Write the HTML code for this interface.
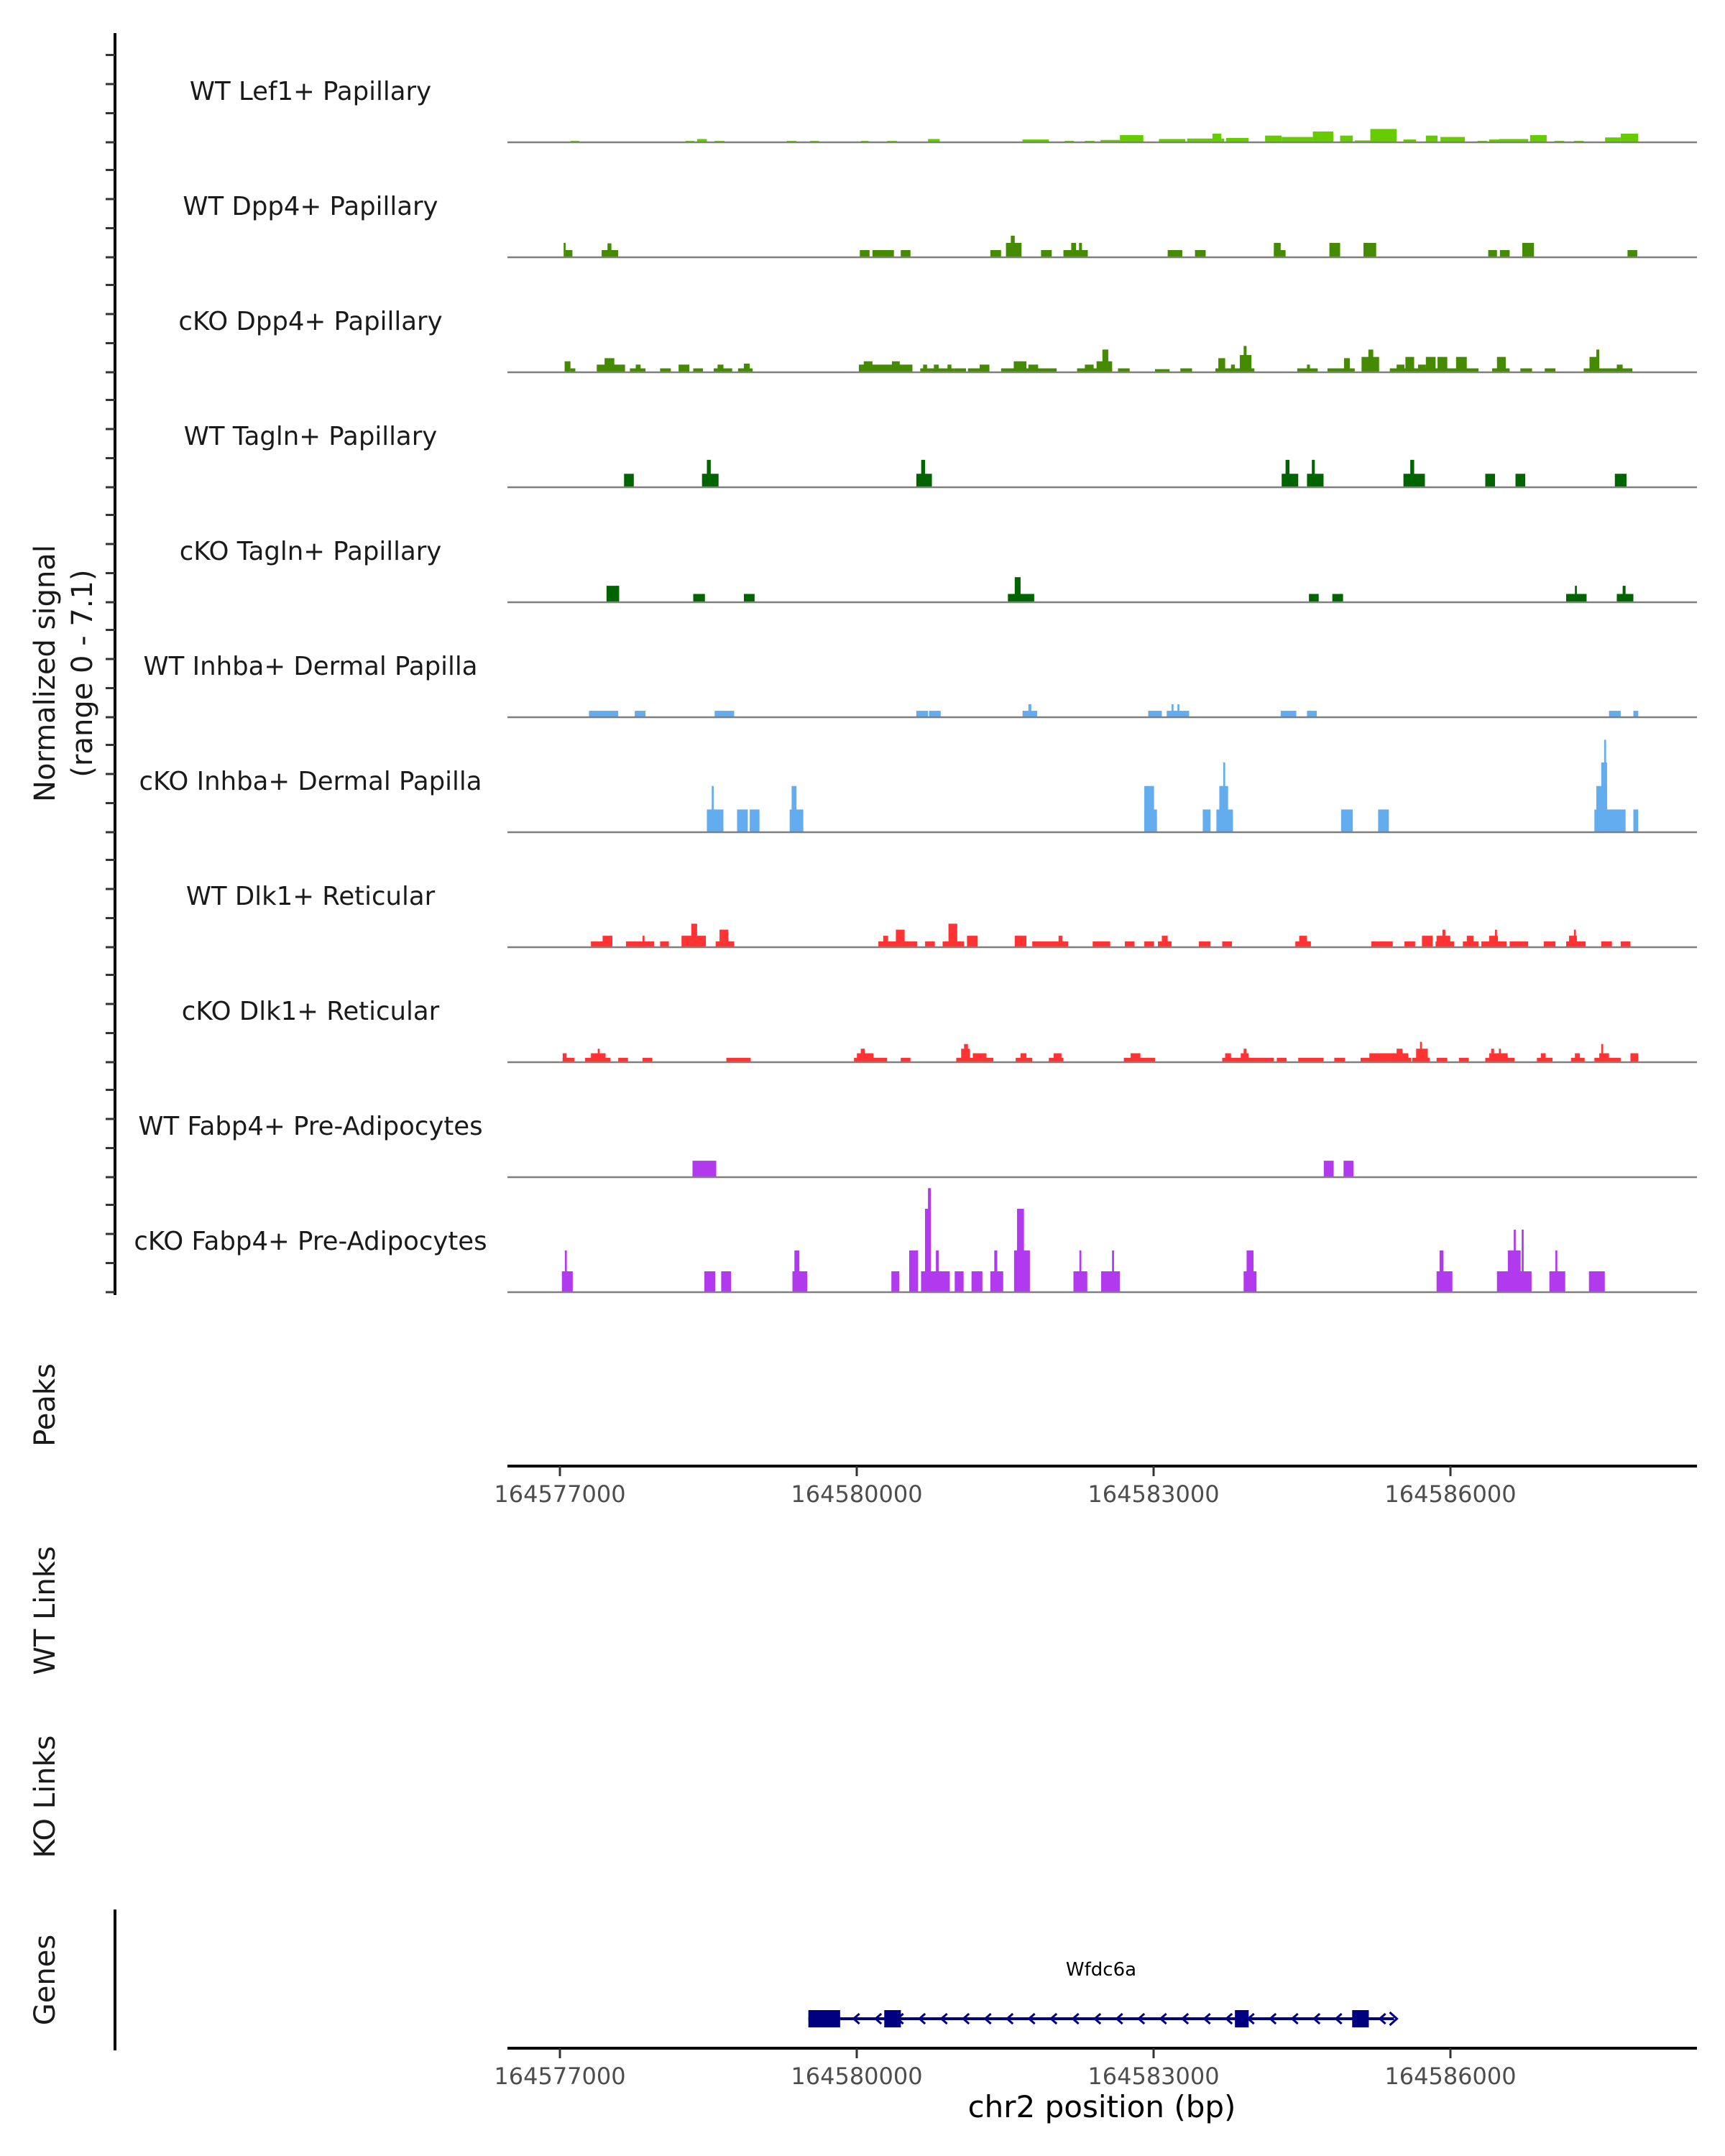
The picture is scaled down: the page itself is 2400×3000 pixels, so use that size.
<!DOCTYPE html>
<html><head><meta charset="utf-8">
<style>
html,body{margin:0;padding:0;background:#fff;}
svg{display:block;font-family:"DejaVu Sans","Liberation Sans",sans-serif;}
</style></head>
<body>
<svg id="chart" width="2400" height="3000" viewBox="0 0 2400 3000" xmlns="http://www.w3.org/2000/svg">
  <g id="axes"></g>
  <g id="tracks"></g>
  <g id="gene"></g>
  <text transform="translate(76,937) rotate(-90)" text-anchor="middle" font-size="40" fill="#1a1a1a">Normalized signal</text>
  <text transform="translate(128,937) rotate(-90)" text-anchor="middle" font-size="40" fill="#1a1a1a">(range 0 - 7.1)</text>
  <text transform="translate(76,1955) rotate(-90)" text-anchor="middle" font-size="40" fill="#1a1a1a">Peaks</text>
  <text transform="translate(76,2241) rotate(-90)" text-anchor="middle" font-size="40" fill="#1a1a1a">WT Links</text>
  <text transform="translate(76,2500) rotate(-90)" text-anchor="middle" font-size="40" fill="#1a1a1a">KO Links</text>
  <text transform="translate(76,2755) rotate(-90)" text-anchor="middle" font-size="40" fill="#1a1a1a">Genes</text>
  <text x="1533" y="2946" text-anchor="middle" font-size="42" fill="#000">chr2 position (bp)</text>
</svg>
<script>
// Region start (kb); peak positions below are kb offsets from this
const REGION_KB = 164576;
const xTicks = [164577000, 164580000, 164583000, 164586000];
const trackNames = ["WT Lef1+ Papillary","WT Dpp4+ Papillary","cKO Dpp4+ Papillary","WT Tagln+ Papillary","cKO Tagln+ Papillary","WT Inhba+ Dermal Papilla","cKO Inhba+ Dermal Papilla","WT Dlk1+ Reticular","cKO Dlk1+ Reticular","WT Fabp4+ Pre-Adipocytes","cKO Fabp4+ Pre-Adipocytes"];
const trackColors = ["#66cc00","#458b00","#458b00","#006400","#006400","#63acee","#63acee","#ff3333","#ff3333","#b23aee","#b23aee"];
// [startKbOffset, endKbOffset, signal]
const wtLef1 = [[1.10,1.19,.09],[2.28,2.37,.09],[2.40,2.50,.21],[2.58,2.68,.09],[3.32,3.42,.09],[3.56,3.65,.09],[4.08,4.16,.09],[4.35,4.45,.09],[4.77,4.89,.21],[5.74,6.01,.18],[6.17,6.27,.09],[6.38,6.48,.09],[6.54,6.74,.15],[6.74,6.98,.46],[7.14,7.41,.21],[7.43,7.69,.24],[7.69,7.78,.55],[7.78,7.81,.24],[7.83,8.06,.28],[8.23,8.40,.43],[8.40,8.72,.34],[8.72,8.93,.69],[9.00,9.13,.43],[9.15,9.31,.12],[9.31,9.58,.85],[9.65,9.78,.18],[9.88,10.00,.43],[10.03,10.28,.34],[10.41,10.51,.09],[10.53,10.63,.18],[10.63,10.93,.21],[10.95,11.12,.46],[11.20,11.30,.09],[11.40,11.50,.09],[11.72,11.88,.31],[11.88,12.06,.55]];
const wtDpp4 = [[1.03,1.05,.92],[1.05,1.12,.46],[1.42,1.59,.46],[1.48,1.52,.89],[4.07,4.17,.46],[4.20,4.42,.46],[4.49,4.59,.46],[5.41,5.52,.46],[5.57,5.73,.92],[5.62,5.66,1.38],[5.93,6.04,.46],[6.16,6.41,.46],[6.24,6.29,.92],[6.32,6.35,.92],[7.23,7.38,.46],[7.51,7.62,.46],[8.32,8.44,.46],[8.32,8.39,.92],[8.89,9.00,.92],[9.24,9.37,.92],[10.52,10.61,.46],[10.64,10.74,.46],[10.87,10.99,.92],[11.95,12.05,.46]];
const ckoDpp4 = [[1.04,1.10,.7],[1.10,1.15,.25],[1.37,1.66,.49],[1.45,1.55,.9],[1.71,1.87,.25],[1.77,1.82,.49],[2.02,2.13,.25],[2.21,2.32,.49],[2.36,2.46,.25],[2.57,2.76,.25],[2.61,2.67,.49],[2.82,2.97,.25],[2.88,2.94,.55],[4.06,4.61,.49],[4.11,4.20,.7],[4.40,4.48,.7],[4.69,5.04,.25],[4.72,4.76,.49],[4.83,4.88,.49],[4.97,5.01,.49],[5.04,5.16,.25],[5.18,5.40,.25],[5.30,5.40,.49],[5.52,6.09,.25],[5.65,5.78,.7],[5.80,5.90,.49],[6.30,6.66,.25],[6.38,6.47,.49],[6.50,6.66,.7],[6.56,6.62,1.45],[6.72,6.84,.25],[7.10,7.25,.2],[7.36,7.48,.25],[7.72,8.12,.25],[7.75,7.82,.9],[7.88,7.92,.49],[7.97,8.09,1.1],[8.01,8.04,1.68],[8.56,8.77,.25],[8.66,8.69,.49],[8.87,9.15,.25],[9.04,9.10,.9],[9.22,9.40,.98],[9.29,9.34,1.45],[9.51,10.42,.25],[9.58,9.66,.49],[9.67,9.76,.98],[9.80,9.88,.49],[9.88,9.98,.98],[10.00,10.10,.98],[10.19,10.30,.98],[10.56,10.74,.25],[10.61,10.70,.98],[10.85,10.97,.25],[11.10,11.21,.25],[11.50,11.80,.25],[11.56,11.64,.98],[11.63,11.66,1.45],[11.80,12.00,.25],[11.84,11.90,.49]];
const wtTagln = [[1.65,1.75,.86],[2.45,2.62,.86],[2.50,2.54,1.75],[4.65,4.81,.86],[4.70,4.74,1.75],[8.40,8.57,.86],[8.44,8.48,1.75],[8.66,8.83,.86],[8.71,8.74,1.75],[9.65,9.87,.86],[9.72,9.76,1.75],[10.49,10.59,.86],[10.80,10.90,.86],[11.82,11.94,.86]];
const ckoTagln = [[1.47,1.60,1.05],[2.36,2.48,.53],[2.88,2.99,.53],[5.59,5.86,.53],[5.66,5.72,1.6],[8.68,8.78,.53],[8.92,9.03,.53],[11.32,11.53,.53],[11.41,11.43,1.05],[11.84,12.01,.53],[11.90,11.93,1.05]];
const wtInhba = [[1.29,1.59,.41],[1.76,1.87,.41],[2.58,2.78,.41],[4.65,4.77,.41],[4.78,4.90,.41],[5.74,5.89,.41],[5.80,5.83,.83],[7.03,7.17,.41],[7.22,7.45,.41],[7.27,7.29,.83],[7.33,7.35,.83],[8.39,8.55,.41],[8.66,8.76,.41],[11.76,11.88,.41],[12.01,12.06,.41]];
const ckoInhba = [[2.50,2.67,1.45],[2.55,2.57,2.95],[2.81,2.92,1.45],[2.94,3.04,1.45],[3.35,3.49,1.45],[3.37,3.42,2.95],[6.99,7.12,1.45],[6.99,7.09,2.95],[7.59,7.67,1.45],[7.73,7.90,1.45],[7.76,7.85,2.95],[7.80,7.82,4.45],[9.01,9.13,1.45],[9.39,9.50,1.45],[11.61,11.93,1.45],[11.63,11.74,2.95],[11.68,11.74,4.45],[11.71,11.73,5.9],[12.01,12.06,1.45]];
const wtDlk1 = [[1.31,1.53,.37],[1.43,1.53,.73],[1.67,1.96,.37],[1.84,1.86,.73],[2.02,2.11,.37],[2.24,2.49,.73],[2.34,2.40,1.5],[2.59,2.78,.37],[2.63,2.72,1.12],[4.26,4.66,.37],[4.31,4.36,.73],[4.44,4.53,1.12],[4.74,4.84,.37],[4.92,5.14,.37],[4.98,5.07,1.5],[5.17,5.28,.73],[5.66,5.78,.73],[5.84,6.21,.37],[6.11,6.15,.73],[6.46,6.64,.37],[6.79,6.89,.37],[6.99,7.09,.37],[7.13,7.27,.37],[7.17,7.23,.73],[7.55,7.67,.37],[7.79,7.89,.37],[8.54,8.70,.37],[8.58,8.66,.73],[9.32,9.54,.37],[9.66,9.77,.37],[9.84,9.95,.73],[9.98,10.17,.37],[9.99,10.13,.73],[10.05,10.08,1.12],[10.26,10.42,.37],[10.30,10.37,.73],[10.45,10.71,.37],[10.53,10.62,.73],[10.59,10.61,1.12],[10.74,10.93,.37],[11.09,11.21,.37],[11.32,11.52,.37],[11.35,11.43,.73],[11.40,11.42,1.12],[11.68,11.79,.37],[11.88,11.98,.37]];
const ckoDlk1 = [[1.02,1.14,.28],[1.02,1.06,.57],[1.25,1.51,.28],[1.31,1.46,.57],[1.38,1.40,.86],[1.59,1.69,.28],[1.84,1.94,.28],[2.70,2.95,.28],[4.01,4.35,.28],[4.04,4.21,.57],[4.08,4.12,.86],[4.49,4.59,.28],[5.06,5.44,.28],[5.11,5.20,.86],[5.14,5.18,1.16],[5.23,5.37,.57],[5.67,5.84,.28],[5.72,5.78,.57],[6.01,6.16,.28],[6.06,6.14,.57],[6.78,7.10,.28],[6.85,6.95,.57],[7.79,8.32,.28],[7.82,7.88,.57],[7.98,8.06,.57],[8.01,8.04,.86],[8.35,8.45,.28],[8.57,8.83,.28],[8.94,9.05,.28],[9.21,9.73,.28],[9.30,9.70,.57],[9.58,9.64,.86],[9.74,9.92,.28],[9.78,9.90,.86],[9.82,9.84,1.3],[9.99,10.10,.28],[10.22,10.32,.28],[10.49,10.79,.28],[10.53,10.72,.57],[10.55,10.58,.86],[10.63,10.65,.86],[11.02,11.18,.28],[11.06,11.11,.57],[11.37,11.51,.28],[11.41,11.46,.57],[11.61,11.88,.28],[11.66,11.76,.57],[11.68,11.70,1.16],[11.98,12.06,.57]];
const wtFabp4 = [[2.34,2.58,1.05],[8.72,8.82,1.05],[8.92,9.02,1.05]];
const ckoFabp4 = [[1.02,1.13,1.33],[1.05,1.07,2.66],[2.46,2.57,1.33],[2.63,2.73,1.33],[3.35,3.50,1.33],[3.37,3.42,2.66],[4.35,4.43,1.33],[4.53,4.62,2.66],[4.65,4.94,1.33],[4.69,4.74,5.32],[4.72,4.75,6.64],[4.80,4.83,2.66],[4.99,5.08,1.33],[5.16,5.27,1.33],[5.35,5.48,1.33],[5.39,5.42,2.66],[5.59,5.75,2.66],[5.62,5.69,5.32],[6.19,6.33,1.33],[6.25,6.27,2.66],[6.47,6.66,1.33],[6.58,6.60,2.66],[7.91,8.04,1.33],[7.94,8.01,2.66],[9.86,10.02,1.33],[9.89,9.93,2.66],[10.47,10.82,1.33],[10.58,10.71,2.66],[10.64,10.66,3.99],[10.72,10.74,3.99],[11.00,11.16,1.33],[11.06,11.08,2.66],[11.40,11.56,1.33]];
const trackData = [wtLef1,wtDpp4,ckoDpp4,wtTagln,ckoTagln,wtInhba,ckoInhba,wtDlk1,ckoDlk1,wtFabp4,ckoFabp4];
// Gene Wfdc6a: exons in bp, gene span in bp
const geneStart = 164579511;
const geneEnd = 164585430;
const exonStarts = [164579511, 164580278, 164583822, 164585007];
const exonEnds = [164579832, 164580446, 164583961, 164585175];

const NS = "http://www.w3.org/2000/svg";
const X0 = 779, PX_PER_BP = 1239 / 9000;
function xScale(bp){ return X0 + (bp - 164577000) * PX_PER_BP; }
function xKb(off, calib){ const o = calib ? 1.54 + (off - 1.54) * 0.9846 : off; return xScale((REGION_KB + o) * 1000); }
const Y_PER_UNIT = 21.8;
function baseY(i){ return 198 + 160.0 * i; }
function yScale(i, v){ return baseY(i) - v * Y_PER_UNIT; }
function mk(tag, attrs, parent){ const e = document.createElementNS(NS, tag); for (const k in attrs) e.setAttribute(k, attrs[k]); parent.appendChild(e); return e; }

const axes = document.getElementById('axes');
const tracks = document.getElementById('tracks');
const gene = document.getElementById('gene');

let ax = mk('line', {x1:160, y1:46, x2:160, y2:1802, stroke:'#000', 'stroke-width':4}, axes);


for (let i = 0; i < trackNames.length; i++) {
  for (let k = 0; k < 4; k++) {
    const y = baseY(i) - k * 40.5;
    const t = mk('line', {x1:147, y1:y, x2:160, y2:y, stroke:'#333', 'stroke-width':3}, axes);
    
    
  }
}

trackData.forEach((segs, i) => {
  const calib = i < 9;
  const g = mk('g', {}, tracks);
  
  
  const lbl = mk('text', {x:432, y:baseY(i) - 59, 'text-anchor':'middle', 'font-size':35.5, fill:'#1a1a1a'}, g);
  lbl.textContent = trackNames[i];
  
  
  segs.forEach(s => {
    const x1 = xKb(s[0], calib), x2 = xKb(s[1], calib);
    const y = yScale(i, s[2]);
    const r = mk('rect', {x:x1, y:y, width:Math.max(2, x2 - x1), height:baseY(i) - y, fill:trackColors[i]}, g);
    
    
  });
  const bl = mk('line', {x1:706, y1:baseY(i), x2:2361, y2:baseY(i), stroke:'#7f7f7f', 'stroke-width':2.5}, g);
  
  
});

function xAxis(y, name){
  const l = mk('line', {x1:706, y1:y, x2:2361, y2:y, stroke:'#000', 'stroke-width':4}, axes);
  
  
  xTicks.forEach(v => {
    const x = xScale(v);
    const t = mk('line', {x1:x, y1:y, x2:x, y2:y + 14, stroke:'#333', 'stroke-width':3}, axes);
    
    
    const tl = mk('text', {x:x, y:y + 50, 'text-anchor':'middle', 'font-size':32, fill:'#4d4d4d'}, axes);
    tl.textContent = String(v);
    
    
  });
}
xAxis(2040, 'peaks-x-axis');
xAxis(2850, 'genes-x-axis');

let ga = mk('line', {x1:160, y1:2657, x2:160, y2:2853, stroke:'#000', 'stroke-width':4}, axes);



const gy = 2809;
const gl = mk('line', {x1:xScale(geneStart), y1:gy, x2:xScale(geneEnd), y2:gy, stroke:'#000080', 'stroke-width':4}, gene);


for (let x = xScale(geneStart) + 65; x < xScale(geneEnd) - 10; x += 30.5) {
  const a = mk('polyline', {points:`${x+6},${gy-7} ${x-2},${gy} ${x+6},${gy+7}`, fill:'none', stroke:'#000080', 'stroke-width':3}, gene);
  
  
}
const ea = mk('polyline', {points:`${xScale(geneEnd)-6},${gy-9} ${xScale(geneEnd)+4},${gy} ${xScale(geneEnd)-6},${gy+9}`, fill:'none', stroke:'#000080', 'stroke-width':3}, gene);


exonStarts.forEach((s, i) => {
  const x1 = xScale(s), x2 = xScale(exonEnds[i]);
  const r = mk('rect', {x:x1, y:gy - 12, width:x2 - x1, height:24, fill:'#000080'}, gene);
  
  
});
const gn = mk('text', {x:1532, y:2749, 'text-anchor':'middle', 'font-size':26, fill:'#000'}, gene);
gn.textContent = 'Wfdc6a';


</script>
</body></html>
